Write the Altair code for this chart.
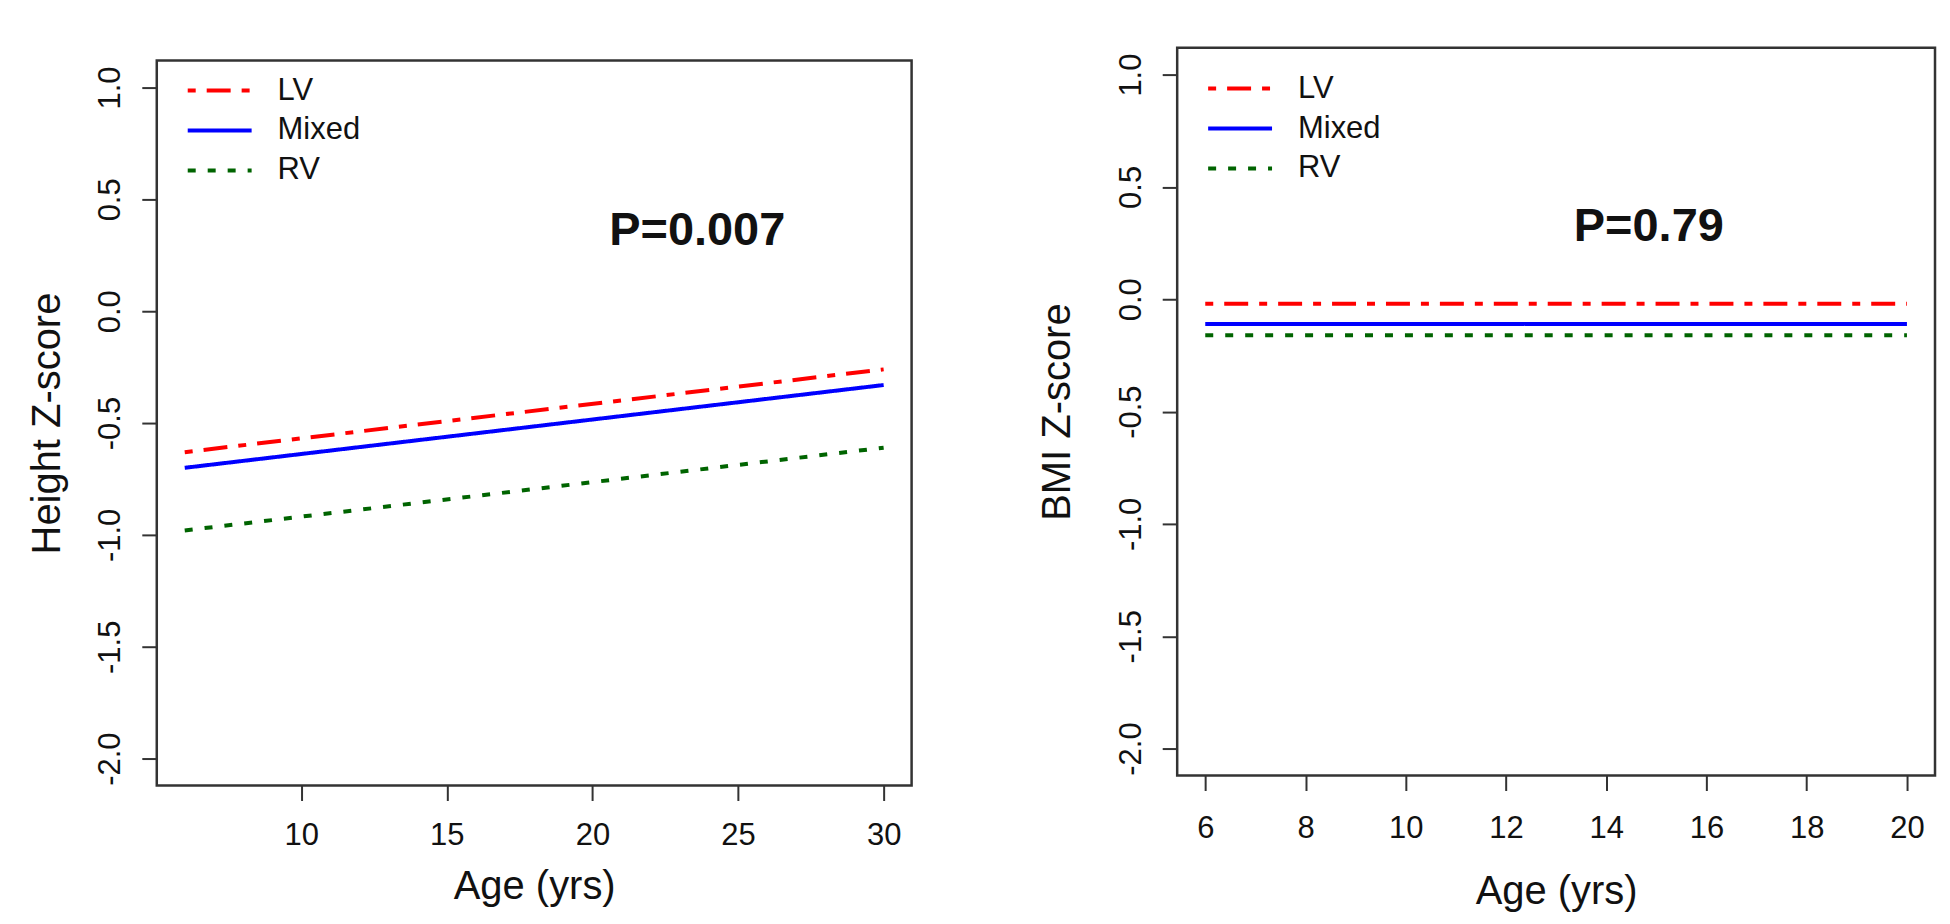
import altair as alt
import pandas as pd

# ---------------- data ----------------
groups = ["LV", "Mixed", "RV"]
colors = ["#FF0000", "#0000FF", "#006400"]
dashes = [[8, 11, 24, 11], [1, 0], [8, 12]]

# Height Z-score panel (fitted lines, start/end)
h_age_start = [6, 6, 6]
h_age_end = [30, 30, 30]
h_z_start = [-0.63, -0.70, -0.98]
h_z_end = [-0.26, -0.33, -0.61]

# BMI Z-score panel (flat fitted lines)
b_age_start = [6, 6, 6]
b_age_end = [20, 20, 20]
b_z_start = [-0.02, -0.11, -0.16]
b_z_end = [-0.02, -0.11, -0.16]

h_x_ticks = [10, 15, 20, 25, 30]
b_x_ticks = [6, 8, 10, 12, 14, 16, 18, 20]
y_ticks = [-2.0, -1.5, -1.0, -0.5, 0.0, 0.5, 1.0]

h_p_label = ["P=0.007"]
h_p_x = [23.6]
h_p_y = [0.36]
b_p_label = ["P=0.79"]
b_p_x = [14.85]
b_p_y = [0.32]

FONT = "Liberation Sans"


def long_df(x0, x1, y0, y1):
    rows = []
    for g, a, b, c, d in zip(groups, x0, x1, y0, y1):
        rows.append({"group": g, "age": a, "z": c})
        rows.append({"group": g, "age": b, "z": d})
    return pd.DataFrame(rows)


h_df = long_df(h_age_start, h_age_end, h_z_start, h_z_end)
b_df = long_df(b_age_start, b_age_end, b_z_start, b_z_end)

minus_fix = "replace(format(datum.value, '.1f'), '\u2212', '-')"


def panel(df, xdom, xticks, ytitle, px, py, plabel, w, h,
          xlabpad, xtitpad, ytitpad, legy):
    xs = alt.Scale(domain=xdom, nice=False, zero=False)
    ys = alt.Scale(domain=[-2.12, 1.12], nice=False, zero=False)
    xaxis = alt.Axis(values=xticks, title="Age (yrs)", format="d",
                     labelPadding=xlabpad, titlePadding=xtitpad)
    yaxis = alt.Axis(values=y_ticks, title=ytitle, labelAngle=-90,
                     labelAlign="center", labelBaseline="bottom",
                     labelExpr=minus_fix, labelPadding=15,
                     titlePadding=ytitpad)
    lines = alt.Chart(df).mark_line(strokeWidth=4, strokeCap="butt").encode(
        x=alt.X("age:Q", scale=xs, axis=xaxis),
        y=alt.Y("z:Q", scale=ys, axis=yaxis),
        color=alt.Color("group:N",
                        scale=alt.Scale(domain=groups, range=colors),
                        legend=alt.Legend(title=None, orient="none",
                                          legendX=29, legendY=legy,
                                          symbolType="stroke", symbolSize=4096,
                                          symbolStrokeWidth=4,
                                          labelFontSize=31, labelFont=FONT,
                                          labelColor="#111", labelOffset=24,
                                          clipHeight=40, rowPadding=0,
                                          padding=0)),
        strokeDash=alt.StrokeDash("group:N",
                                  scale=alt.Scale(domain=groups, range=dashes),
                                  legend=None),
        detail="group:N",
    )
    tdf = pd.DataFrame({"x": px, "y": py, "t": plabel})
    txt = alt.Chart(tdf).mark_text(fontSize=47, fontWeight="bold", font=FONT,
                                   color="#111").encode(
        x=alt.X("x:Q", scale=xs), y=alt.Y("y:Q", scale=ys), text="t:N")
    return alt.layer(lines, txt).properties(width=w, height=h)


left = panel(h_df, [5.04, 30.96], h_x_ticks, "Height Z-score",
             h_p_x, h_p_y, h_p_label, 756, 726, 20, 16, 27, 23)
right = panel(b_df, [5.44, 20.56], b_x_ticks, "BMI Z-score",
              b_p_x, b_p_y, b_p_label, 759, 729, 23, 28, 38, 21)

spacer = alt.Chart(pd.DataFrame({"v": [0]})).mark_point(size=0, opacity=0).encode(
    x=alt.value(0), y=alt.value(0)
).properties(width=1, height=1, view=alt.ViewBackground(stroke=None))

left_col = alt.vconcat(spacer, left, spacing=10)

chart = alt.hconcat(left_col, right, spacing=122).resolve_scale(
    color="independent", strokeDash="independent"
).resolve_legend(
    color="independent", strokeDash="independent"
).properties(
    padding={"left": 18, "top": 37, "right": 5, "bottom": 0},
    background="white",
).configure_view(stroke="#333", strokeWidth=2.5).configure_axis(
    grid=False, domain=False, tickSize=15, tickWidth=2, tickColor="#333",
    labelFontSize=31, labelFont=FONT, labelColor="#111",
    titleFontSize=40, titleFont=FONT, titleColor="#111",
    titleFontWeight="normal", labelFlush=False, labelOverlap=False,
)

chart.save("out.html", embed_options={"renderer": "svg", "actions": False})
